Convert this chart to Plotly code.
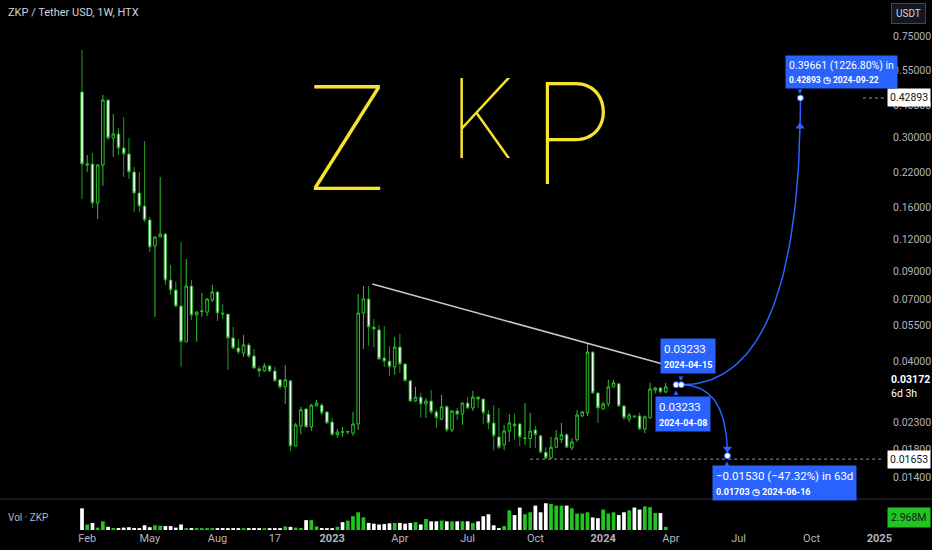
import numpy as np
import pandas as pd
import plotly.graph_objects as go

# ---------------- data ----------------
first_week = "2022-01-31"   # weekly bars, Monday dates

opens = [0.4526, 0.2344, 0.2365, 0.1664, 0.2344, 0.4211, 0.2990, 0.3100, 0.2732, 0.2588,
         0.2201, 0.1821, 0.1620, 0.1428, 0.1129, 0.1225, 0.1258, 0.0831, 0.0759, 0.0657,
         0.0476, 0.0787, 0.0606, 0.0625, 0.0622, 0.0694, 0.0746, 0.0617, 0.0611, 0.0493,
         0.0450, 0.0430, 0.0463, 0.0419, 0.0373, 0.0366, 0.0383, 0.0366, 0.0338, 0.0317,
         0.0335, 0.0186, 0.0223, 0.0260, 0.0221, 0.0267, 0.0269, 0.0253, 0.0231, 0.0206,
         0.0211, 0.0211, 0.0209, 0.0227, 0.0617, 0.0700, 0.0544, 0.0530, 0.0411, 0.0400,
         0.0380, 0.0454, 0.0390, 0.0335, 0.0279, 0.0289, 0.0272, 0.0279, 0.0253, 0.0237,
         0.0265, 0.0215, 0.0255, 0.0248, 0.0274, 0.0262, 0.0289, 0.0284, 0.0248, 0.0229,
         0.0202, 0.0188, 0.0213, 0.0227, 0.0227, 0.0199, 0.0199, 0.0215, 0.0204, 0.0176,
         0.0167, 0.0184, 0.0197, 0.0206, 0.0183, 0.0197, 0.0244, 0.0251, 0.0434, 0.0300,
         0.0260, 0.0272, 0.0317, 0.0326, 0.0267, 0.0237, 0.0244, 0.0244, 0.0217, 0.0240,
         0.0308, 0.0314, 0.0303]
highs = [0.6610, 0.2565, 0.2612, 0.2360, 0.4405, 0.4230, 0.3712, 0.3272, 0.3613, 0.2990,
         0.2302, 0.2201, 0.2910, 0.1467, 0.1230, 0.2104, 0.1269, 0.0952, 0.0817, 0.1171,
         0.1004, 0.0831, 0.0627, 0.0739, 0.0706, 0.0795, 0.0750, 0.0669, 0.0612, 0.0544,
         0.0489, 0.0506, 0.0471, 0.0446, 0.0383, 0.0393, 0.0386, 0.0380, 0.0339, 0.0386,
         0.0336, 0.0229, 0.0265, 0.0261, 0.0272, 0.0282, 0.0274, 0.0254, 0.0240, 0.0217,
         0.0221, 0.0213, 0.0253, 0.0732, 0.0787, 0.0787, 0.0585, 0.0554, 0.0549, 0.0458,
         0.0497, 0.0511, 0.0391, 0.0336, 0.0317, 0.0300, 0.0287, 0.0308, 0.0258, 0.0295,
         0.0269, 0.0257, 0.0262, 0.0275, 0.0289, 0.0306, 0.0292, 0.0285, 0.0257, 0.0269,
         0.0262, 0.0225, 0.0248, 0.0248, 0.0229, 0.0274, 0.0251, 0.0223, 0.0206, 0.0184,
         0.0202, 0.0215, 0.0229, 0.0209, 0.0200, 0.0257, 0.0255, 0.0471, 0.0435, 0.0303,
         0.0277, 0.0338, 0.0338, 0.0327, 0.0269, 0.0251, 0.0246, 0.0251, 0.0245, 0.0329,
         0.0317, 0.0317, 0.0329]
lows = [0.1725, 0.2201, 0.1591, 0.1440, 0.1940, 0.2936, 0.2519, 0.2565, 0.2104, 0.2066,
        0.1535, 0.1535, 0.1402, 0.1069, 0.0596, 0.1220, 0.0795, 0.0726, 0.0651, 0.0380,
        0.0474, 0.0580, 0.0476, 0.0596, 0.0601, 0.0681, 0.0574, 0.0585, 0.0369, 0.0446,
        0.0426, 0.0415, 0.0411, 0.0373, 0.0347, 0.0363, 0.0363, 0.0332, 0.0311, 0.0272,
        0.0178, 0.0185, 0.0207, 0.0220, 0.0213, 0.0266, 0.0246, 0.0228, 0.0204, 0.0200,
        0.0202, 0.0207, 0.0204, 0.0215, 0.0446, 0.0458, 0.0454, 0.0404, 0.0380, 0.0350,
        0.0353, 0.0359, 0.0334, 0.0277, 0.0277, 0.0240, 0.0240, 0.0248, 0.0219, 0.0235,
        0.0211, 0.0211, 0.0235, 0.0225, 0.0260, 0.0255, 0.0262, 0.0227, 0.0217, 0.0179,
        0.0181, 0.0179, 0.0193, 0.0197, 0.0186, 0.0188, 0.0183, 0.0183, 0.0175, 0.01653,
        0.0166, 0.0183, 0.0191, 0.0183, 0.0179, 0.0193, 0.0242, 0.0244, 0.0299, 0.0229,
        0.0258, 0.0265, 0.0316, 0.0265, 0.0235, 0.0231, 0.0240, 0.0215, 0.0209, 0.0238,
        0.0299, 0.0299, 0.0299]
closes = [0.2365, 0.2365, 0.1664, 0.2344, 0.4211, 0.2990, 0.3100, 0.2732, 0.2588, 0.2201,
          0.1821, 0.1620, 0.1428, 0.1119, 0.1225, 0.1258, 0.0831, 0.0759, 0.0657, 0.0476,
          0.0787, 0.0606, 0.0622, 0.0628, 0.0700, 0.0746, 0.0617, 0.0611, 0.0493, 0.0450,
          0.0434, 0.0463, 0.0419, 0.0376, 0.0366, 0.0383, 0.0366, 0.0335, 0.0317, 0.0338,
          0.0186, 0.0225, 0.0258, 0.0221, 0.0269, 0.0274, 0.0251, 0.0229, 0.0206, 0.0211,
          0.0211, 0.0212, 0.0227, 0.0617, 0.0700, 0.0544, 0.0534, 0.0408, 0.0400, 0.0380,
          0.0454, 0.0390, 0.0335, 0.0279, 0.0289, 0.0272, 0.0279, 0.0253, 0.0240, 0.0265,
          0.0215, 0.0255, 0.0248, 0.0274, 0.0262, 0.0289, 0.0284, 0.0251, 0.0229, 0.0204,
          0.0184, 0.0213, 0.0229, 0.0223, 0.0202, 0.0200, 0.0213, 0.0206, 0.0176, 0.0167,
          0.0184, 0.0200, 0.0206, 0.0184, 0.0193, 0.0246, 0.0253, 0.0434, 0.0300, 0.0262,
          0.0272, 0.0317, 0.0329, 0.0267, 0.0240, 0.0246, 0.0242, 0.0217, 0.0242, 0.0311,
          0.0314, 0.0303, 0.03172]
volumes_m = [20.4, 5.19, 6.68, 2.23, 8.16, 2.97, 1.86, 1.86, 2.23, 2.60,
             1.86, 1.48, 4.45, 2.60, 4.45, 4.08, 3.71, 3.71, 2.23, 5.19,
             1.48, 1.86, 1.48, 1.48, 1.48, 1.11, 1.48, 1.86, 1.48, 1.48,
             1.48, 1.11, 1.48, 1.86, 1.48, 1.48, 1.48, 1.48, 1.48, 3.34,
             2.97, 2.23, 1.86, 9.28, 9.28, 3.34, 1.86, 1.48, 1.48, 2.97,
             7.42, 8.90, 12.99, 16.70, 11.87, 6.68, 5.94, 5.19, 5.57, 6.31,
             6.68, 6.68, 5.94, 6.68, 7.42, 5.19, 10.39, 8.16, 8.16, 8.90,
             8.16, 8.16, 8.16, 8.16, 8.16, 6.68, 8.16, 12.99, 14.84, 4.45,
             1.48, 3.71, 18.55, 14.10, 21.15, 14.84, 16.70, 23.00, 16.70, 25.23,
             24.49, 23.00, 23.00, 23.00, 20.40, 15.58, 15.58, 16.70, 11.87, 11.13,
             19.29, 15.58, 16.70, 14.10, 16.70, 18.55, 21.15, 19.29, 22.26, 21.52,
             15.95, 15.95, 2.968]

x_tick_dates = ["2022-02-07", "2022-05-02", "2022-08-01", "2022-10-17", "2023-01-02",
                "2023-04-03", "2023-07-03", "2023-10-02", "2024-01-01", "2024-04-01",
                "2024-07-01", "2024-10-07", "2025-01-06"]
x_tick_text = ["Feb", "May", "Aug", "17", "<b>2023</b>", "Apr", "Jul", "Oct", "<b>2024</b>",
               "Apr", "Jul", "Oct", "<b>2025</b>"]
y_tick_vals = [0.75, 0.55, 0.40, 0.30, 0.22, 0.16, 0.12, 0.09, 0.07, 0.055, 0.04, 0.023, 0.018, 0.014]

trend_dates = ["2023-02-25", "2024-03-26"]
trend_prices = [0.0802, 0.0386]

fc_start_dates = ["2024-04-08", "2024-04-15"]
fc_start_price = 0.03233
fc_up_date, fc_up_price = "2024-09-22", 0.42893
fc_dn_date, fc_dn_price = "2024-06-16", 0.01703
low_line_start, low_price = "2023-09-25", 0.01653
up_line_start = "2024-12-15"
last_price = 0.03172
last_volume_label = "2.968M"

# ---------------- styling ----------------
BG = "#000000"
AXIS_TXT = "#b2b5be"
BLUE = "#2962ff"
GREEN_BODY = "#2cc42c"
GREEN_WICK = "#1e9e1e"
VOL_GREEN = "#22c322"
FONT = "Roboto, sans-serif"

W, H = 932, 550
ML, MR, MT, MB = 0, 48, 0, 20
PW, PH = W - ML - MR, H - MT - MB
def px(x):
    return x / PW
def py(y):
    return 1 - y / PH

dates = pd.date_range(first_week, periods=len(opens), freq="7D")

fig = go.Figure()
fig.add_trace(go.Candlestick(
    x=dates, open=opens, high=highs, low=lows, close=closes,
    increasing=dict(line=dict(color=GREEN_BODY, width=1), fillcolor="rgba(0,0,0,0)"),
    decreasing=dict(line=dict(color=GREEN_WICK, width=1), fillcolor="#ffffff"),
    whiskerwidth=0, showlegend=False, hoverinfo="skip", xaxis="x", yaxis="y"))

vol_colors = [VOL_GREEN if c > o else "#ffffff" for o, c in zip(opens, closes)]
fig.add_trace(go.Bar(x=dates, y=volumes_m, marker=dict(color=vol_colors, line=dict(width=0)),
                     width=5.0 * 86400000, showlegend=False, hoverinfo="skip",
                     xaxis="x", yaxis="y2"))

# trend line
fig.add_trace(go.Scatter(x=trend_dates, y=trend_prices, mode="lines",
                         line=dict(color="#c7c9d0", width=1.5), showlegend=False, hoverinfo="skip"))

# dotted price lines
fig.add_trace(go.Scatter(x=[low_line_start, "2025-02-01"], y=[low_price, low_price], mode="lines",
                         line=dict(color="#9598a1", width=1, dash="dot"), showlegend=False, hoverinfo="skip"))
fig.add_trace(go.Scatter(x=[up_line_start, "2025-02-01"], y=[fc_up_price, fc_up_price], mode="lines",
                         line=dict(color="#9598a1", width=1, dash="dot"), showlegend=False, hoverinfo="skip"))

# forecast curves (quadratic bezier in date / log-price space)
def bezier(d0, p0, d1, p1, n=60):
    x0 = pd.Timestamp(d0).value
    x2 = pd.Timestamp(d1).value
    y0, y2 = np.log10(p0), np.log10(p1)
    cx, cy = x2, y0
    t = np.linspace(0, 1, n)
    xs = (1 - t) ** 2 * x0 + 2 * (1 - t) * t * cx + t ** 2 * x2
    ys = (1 - t) ** 2 * y0 + 2 * (1 - t) * t * cy + t ** 2 * y2
    return pd.to_datetime(xs), 10 ** ys

for d_end, p_end, sym in [(fc_up_date, fc_up_price, "triangle-up"), (fc_dn_date, fc_dn_price, "triangle-down")]:
    bx, by = bezier(fc_start_dates[1], fc_start_price, d_end, p_end)
    fig.add_trace(go.Scatter(x=bx, y=by, mode="lines", line=dict(color=BLUE, width=1.5),
                             showlegend=False, hoverinfo="skip"))
    fig.add_trace(go.Scatter(x=[bx[-4]], y=[by[-4]], mode="markers",
                             marker=dict(symbol=sym, size=8, color=BLUE),
                             showlegend=False, hoverinfo="skip"))

fig.add_trace(go.Scatter(x=fc_start_dates + [fc_up_date, fc_dn_date],
                         y=[fc_start_price, fc_start_price, fc_up_price, fc_dn_price],
                         mode="markers", marker=dict(size=6, color="#ffffff", line=dict(color=BLUE, width=1)),
                         showlegend=False, hoverinfo="skip"))

ann = []
def lbl(x, y, text, **kw):
    d = dict(x=x, y=y, text=text, showarrow=False, xanchor="center", yanchor="middle",
             font=dict(family=FONT, size=11, color=AXIS_TXT))
    d.update(kw)
    ann.append(d)

# header & pane labels
lbl(px(6), py(13), "ZKP / Tether USD, 1W, HTX", xref="paper", yref="paper", xanchor="left",
    font=dict(family=FONT, size=11, color="#d1d4dc"))
lbl(px(6), py(517), "Vol · ZKP", xref="paper", yref="paper", xanchor="left",
    font=dict(family=FONT, size=10, color=AXIS_TXT))
lbl(px(909), py(14), "USDT", xref="paper", yref="paper", bgcolor="#131722",
    bordercolor="#434651", borderwidth=1, borderpad=4, font=dict(family=FONT, size=10, color="#d1d4dc"))

# ZKP hand lettering
for ch, cx, cy, sz in [("Z", 347, 137, 145), ("K", 481, 118, 110), ("P", 572, 133, 140)]:
    lbl(px(cx), py(cy), ch, xref="paper", yref="paper",
        font=dict(family="Inter, DejaVu Sans", size=sz, color="#f7e32c", weight=100))

# right axis labels
lbl(1.003, np.log10(fc_up_price), "0.42893", xref="paper", yref="y", xanchor="left",
    bgcolor="#ffffff", borderpad=2, font=dict(family=FONT, size=10.5, color="#131722"))
lbl(1.003, np.log10(low_price), "0.01653", xref="paper", yref="y", xanchor="left",
    bgcolor="#ffffff", borderpad=2, font=dict(family=FONT, size=10.5, color="#131722"))
lbl(1.006, np.log10(last_price), "<b>0.03172</b><br>6d 3h", xref="paper", yref="y", xanchor="left",
    align="left", font=dict(family=FONT, size=10.5, color="#ffffff"))
lbl(1.003, py(517), last_volume_label, xref="paper", yref="paper", xanchor="left",
    bgcolor=VOL_GREEN, borderpad=3, font=dict(family=FONT, size=10.5, color="#0b1f0b"))

# forecast callouts
box = dict(bgcolor=BLUE, borderpad=3, align="left")
lbl(fc_start_dates[1], np.log10(fc_start_price),
    "0.03233<br><span style='font-size:9px'><b>2024-04-15</b></span>",
    xanchor="center", yanchor="bottom", xshift=7, yshift=11,
    font=dict(family=FONT, size=11.5, color="#ffffff"), **box)
lbl(fc_start_dates[1], np.log10(fc_start_price), "▼", yshift=7,
    font=dict(size=8, color=BLUE))
lbl(fc_start_dates[0], np.log10(fc_start_price),
    "0.03233<br><span style='font-size:9px'><b>2024-04-08</b></span>",
    xanchor="center", yanchor="top", xshift=7, yshift=-11,
    font=dict(family=FONT, size=11.5, color="#ffffff"), **box)
lbl(fc_start_dates[0], np.log10(fc_start_price), "▲", yshift=-7,
    font=dict(size=8, color=BLUE))
lbl(fc_up_date, np.log10(fc_up_price),
    "0.39661 (1226.80%) in<br><span style='font-size:8.5px'><b>0.42893 ◷ 2024-09-22</b></span>",
    xanchor="left", yanchor="bottom", xshift=-15, yshift=9,
    font=dict(family=FONT, size=10.5, color="#ffffff"), **box)
lbl(fc_up_date, np.log10(fc_up_price), "▼", yshift=7, font=dict(size=8, color=BLUE))
lbl(fc_dn_date, np.log10(fc_dn_price),
    "−0.01530 (−47.32%) in 63d<br><span style='font-size:9px'><b>0.01703 ◷ 2024-06-16</b></span>",
    xanchor="left", yanchor="top", xshift=-15, yshift=-9,
    font=dict(family=FONT, size=11.5, color="#ffffff"), **box)
lbl(fc_dn_date, np.log10(fc_dn_price), "▲", yshift=-7, font=dict(size=8, color=BLUE))

sep_y = (PH - 499) / PH
fig.update_layout(
    width=W, height=H, margin=dict(l=ML, r=MR, t=MT, b=MB),
    paper_bgcolor=BG, plot_bgcolor=BG, showlegend=False, annotations=ann,
    xaxis=dict(type="date", domain=[0, 1], anchor="y2",
               range=["2021-10-12 20:00", "2025-01-12 07:00"],
               tickvals=x_tick_dates, ticktext=x_tick_text, ticks="",
               tickfont=dict(family=FONT, size=11, color=AXIS_TXT),
               showgrid=False, zeroline=False, showline=False,
               rangeslider=dict(visible=False)),
    yaxis=dict(type="log", domain=[sep_y, 1], side="right", anchor="x",
               range=[np.log10(0.011537), np.log10(1.0376)],
               tickvals=y_tick_vals, ticktext=[f"{v:.5f}" for v in y_tick_vals],
               ticks="", ticklabelstandoff=8,
               tickfont=dict(family=FONT, size=10.5, color=AXIS_TXT),
               showgrid=False, zeroline=False, showline=False),
    yaxis2=dict(domain=[0, sep_y - 0.004], anchor="x", range=[0, max(volumes_m) * 1.08],
                visible=False),
    shapes=[dict(type="line", xref="paper", yref="paper", x0=0, x1=W / PW, y0=sep_y, y1=sep_y,
                 line=dict(color="#2a2e39", width=1))],
)

fig.write_html("out.html", config={"displayModeBar": False},
               post_script="document.body.style.margin='0';document.body.style.overflow='hidden';")
